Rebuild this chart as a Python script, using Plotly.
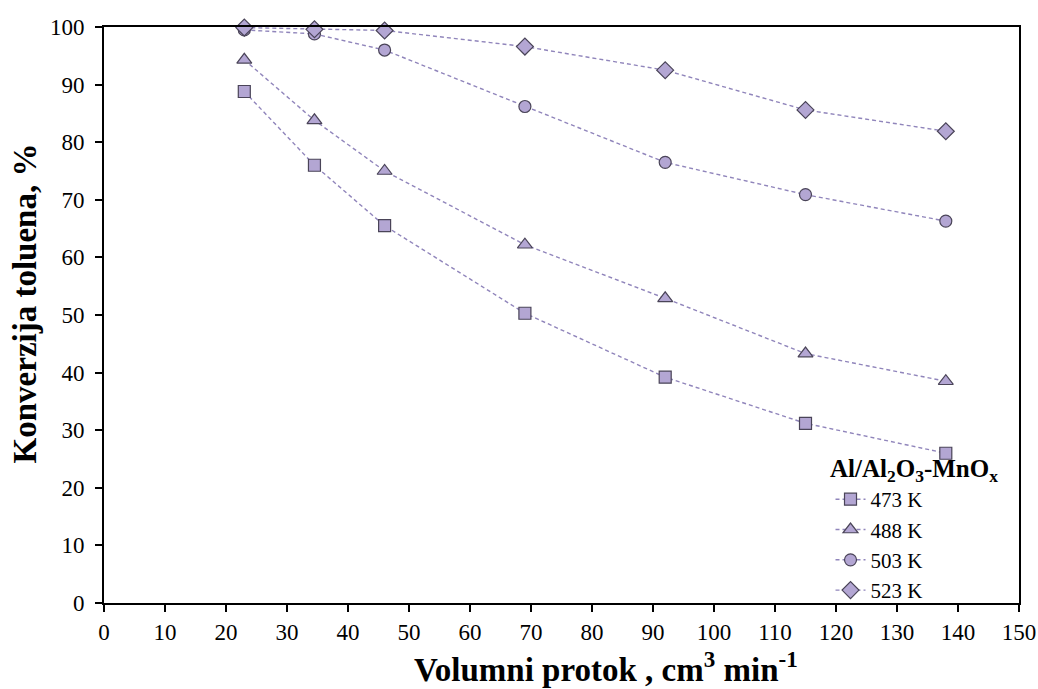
import plotly.graph_objects as go

flow = [23, 34.5, 46, 69, 92, 115, 138]
conv_473 = [88.8, 76.0, 65.5, 50.3, 39.2, 31.2, 26.0]
conv_488 = [94.3, 83.8, 75.0, 62.2, 52.9, 43.3, 38.5]
conv_503 = [99.5, 98.8, 96.0, 86.2, 76.5, 70.9, 66.3]
conv_523 = [99.9, 99.6, 99.4, 96.6, 92.5, 85.6, 81.9]
series_names = ["473 K", "488 K", "503 K", "523 K"]
symbols = ["square", "triangle-up", "circle", "diamond"]
sizes = [12, 13, 12, 13]

x_title = "<b>Volumni protok , cm<sup>3</sup> min<sup>-1</sup></b>"
y_title = "<b>Konverzija toluena, %</b>"
legend_title = "<b>Al/Al<sub>2</sub>O<sub>3</sub>-MnO<sub>x</sub></b>"

fig = go.Figure()
for name, vals, sym, sz in zip(series_names, [conv_473, conv_488, conv_503, conv_523], symbols, sizes):
    fig.add_trace(go.Scatter(
        x=flow, y=vals, name=name, mode="lines+markers",
        line=dict(color="#9085bb", width=1.4, dash="4px,3px"),
        marker=dict(symbol=sym, size=sz, color="#b3a6d3",
                    line=dict(color="#4a4458", width=1.2)),
        cliponaxis=False,
    ))

font_family = "Liberation Serif, Times New Roman, serif"
axis_common = dict(ticks="outside", ticklen=7, tickwidth=1.5, tickcolor="black",
                   showline=True, linecolor="black", linewidth=2,
                   mirror=True, showgrid=False, zeroline=False,
                   tickfont=dict(size=23), automargin=False)
fig.update_layout(
    width=1038, height=689,
    paper_bgcolor="white", plot_bgcolor="white",
    margin=dict(l=104, r=19, t=27, b=86),
    font=dict(family=font_family, color="black", size=21),
    xaxis=dict(range=[0, 150], tick0=0, dtick=10, **axis_common),
    yaxis=dict(range=[0, 100], tick0=0, dtick=10, ticklabelstandoff=6, **axis_common),
    legend=dict(x=0.794, y=-0.014, xanchor="left", yanchor="bottom",
                bgcolor="rgba(0,0,0,0)", font=dict(size=21),
                tracegroupgap=0, itemwidth=30),
    annotations=[
        dict(text=legend_title, xref="paper", yref="paper", x=0.7913, y=0.23,
             xanchor="left", yanchor="middle", showarrow=False,
             font=dict(size=25)),
        dict(text=x_title, xref="paper", yref="paper", x=0.549, y=-0.111,
             xanchor="center", yanchor="middle", showarrow=False,
             font=dict(size=33)),
        dict(text=y_title, xref="paper", yref="paper", x=-0.0853, y=0.52,
             xanchor="center", yanchor="middle", showarrow=False, textangle=-90,
             font=dict(size=33)),
    ],
)

# remove the default page margin so the figure fills the window exactly
fig.write_html(
    "out.html",
    config={"displayModeBar": False},
    post_script="document.body.style.margin='0';document.body.style.overflow='hidden';",
)
